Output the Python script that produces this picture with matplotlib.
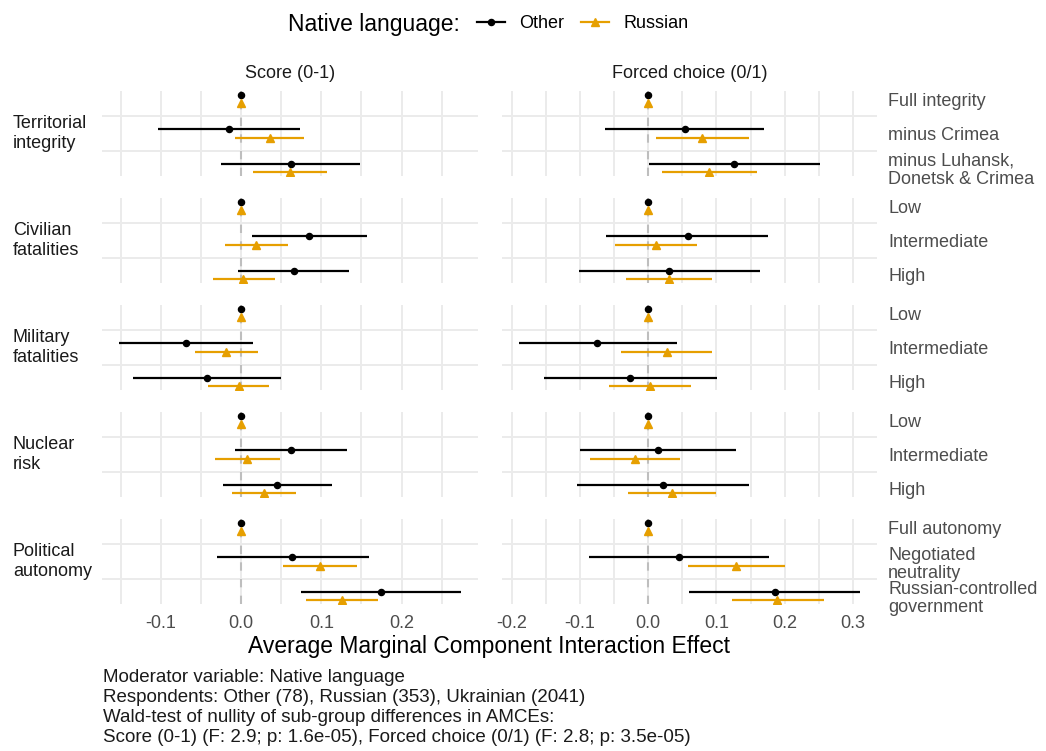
import numpy as np
import matplotlib.pyplot as plt
from matplotlib.lines import Line2D

plt.rcParams['font.family'] = ['Liberation Sans', 'DejaVu Sans']
plt.rcParams['axes.unicode_minus'] = False

# attributes (facet rows) and their levels
attributes = ["Territorial\nintegrity", "Civilian\nfatalities", "Military\nfatalities",
              "Nuclear\nrisk", "Political\nautonomy"]
levels = [
    ["Full integrity", "minus Crimea", "minus Luhansk,\nDonetsk & Crimea"],
    ["Low", "Intermediate", "High"],
    ["Low", "Intermediate", "High"],
    ["Low", "Intermediate", "High"],
    ["Full autonomy", "Negotiated\nneutrality", "Russian-controlled\ngovernment"],
]
outcomes = ["Score (0-1)", "Forced choice (0/1)"]
groups = ["Other", "Russian"]

# AMCIE estimates and 95% intervals, one row per attribute (first level = reference)
score_other_est = [[0, -0.015, 0.062], [0, 0.085, 0.066], [0, -0.068, -0.043], [0, 0.062, 0.045], [0, 0.064, 0.174]]
score_other_lo = [[0, -0.104, -0.025], [0, 0.014, -0.004], [0, -0.152, -0.135], [0, -0.007, -0.023], [0, -0.030, 0.075]]
score_other_hi = [[0, 0.074, 0.148], [0, 0.157, 0.135], [0, 0.015, 0.050], [0, 0.132, 0.113], [0, 0.159, 0.274]]
score_rus_est = [[0, 0.036, 0.061], [0, 0.019, 0.003], [0, -0.019, -0.003], [0, 0.008, 0.028], [0, 0.098, 0.126]]
score_rus_lo = [[0, -0.007, 0.015], [0, -0.020, -0.035], [0, -0.058, -0.041], [0, -0.032, -0.011], [0, 0.052, 0.081]]
score_rus_hi = [[0, 0.079, 0.107], [0, 0.058, 0.042], [0, 0.021, 0.035], [0, 0.048, 0.068], [0, 0.145, 0.171]]

forced_other_est = [[0, 0.054, 0.126], [0, 0.058, 0.031], [0, -0.075, -0.026], [0, 0.014, 0.022], [0, 0.045, 0.185]]
forced_other_lo = [[0, -0.063, 0.001], [0, -0.061, -0.101], [0, -0.189, -0.153], [0, -0.100, -0.104], [0, -0.086, 0.060]]
forced_other_hi = [[0, 0.170, 0.251], [0, 0.176, 0.163], [0, 0.042, 0.101], [0, 0.128, 0.148], [0, 0.177, 0.310]]
forced_rus_est = [[0, 0.079, 0.089], [0, 0.011, 0.031], [0, 0.027, 0.002], [0, -0.020, 0.035], [0, 0.129, 0.189]]
forced_rus_lo = [[0, 0.011, 0.020], [0, -0.049, -0.033], [0, -0.040, -0.058], [0, -0.085, -0.029], [0, 0.058, 0.122]]
forced_rus_hi = [[0, 0.148, 0.159], [0, 0.071, 0.094], [0, 0.094, 0.063], [0, 0.046, 0.099], [0, 0.200, 0.258]]

caption = [
    "Moderator variable: Native language",
    "Respondents: Other (78), Russian (353), Ukrainian (2041)",
    "Wald-test of nullity of sub-group differences in AMCEs:",
    "Score (0-1) (F: 2.9; p: 1.6e-05), Forced choice (0/1) (F: 2.8; p: 3.5e-05)",
]

series = [
    [(score_other_est, score_other_lo, score_other_hi), (score_rus_est, score_rus_lo, score_rus_hi)],
    [(forced_other_est, forced_other_lo, forced_other_hi), (forced_rus_est, forced_rus_lo, forced_rus_hi)],
]

colors = ["black", "#E69F00"]
markers = ["o", "^"]
msizes = [4.4, 5.2]
dodge = [-0.12, 0.12]
GRID = "#EBEBEB"
AXTXT = "#4D4D4D"
STRIP = "#1A1A1A"

W, H = 1046, 751
fig = plt.figure(figsize=(W / 100, H / 100), dpi=100)


def box(left, top, width, height):
    return [left / W, 1 - (top + height) / H, width / W, height / H]


col_left = [102, 502]
col_width = [376, 375]
row_top = [91, 198, 305, 412, 519]
row_h = 85

ypos = np.arange(1, 4)
for j, outcome in enumerate(outcomes):
    # free x scale per column with ggplot-like 5% expansion
    vals = np.concatenate([np.ravel(a) for s in series[j] for a in s[1:]])
    lo_all, hi_all = vals.min(), vals.max()
    pad = 0.05 * (hi_all - lo_all)
    xlim = (lo_all - pad, hi_all + pad)
    major = np.arange(np.ceil(xlim[0] / 0.1), np.floor(xlim[1] / 0.1) + 1) * 0.1
    minor = np.arange(np.ceil(xlim[0] / 0.05), np.floor(xlim[1] / 0.05) + 1) * 0.05

    for i, attr in enumerate(attributes):
        ax = fig.add_axes(box(col_left[j], row_top[i], col_width[j], row_h))
        ax.axvline(0, color="#BEBEBE", lw=1.5, ls=(0, (4, 4)), zorder=1)
        for g in range(len(groups)):
            est, lo, hi = series[j][g]
            y = ypos + dodge[g]
            ax.hlines(y, lo[i], hi[i], color=colors[g], lw=1.6, zorder=2)
            ax.plot(est[i], y, ls="none", marker=markers[g], ms=msizes[g],
                    color=colors[g], zorder=3)

        ax.set_xlim(xlim)
        ax.set_ylim(3 + 0.12 + 0.112, 1 - 0.12 - 0.112)
        ax.set_xticks(major)
        ax.set_xticks(minor, minor=True)
        ax.set_xticklabels([f"{v:.1f}" for v in major])
        ax.set_yticks([1.5, 2.5], minor=True)
        ax.xaxis.grid(True, which="both", color=GRID, lw=1.4, zorder=0)
        ax.yaxis.grid(True, which="minor", color=GRID, lw=1.4, zorder=0)
        ax.yaxis.grid(False, which="major")
        ax.set_axisbelow(True)
        for s in ax.spines.values():
            s.set_visible(False)
        ax.tick_params(which="both", length=0, labelsize=13, labelcolor=AXTXT, pad=8)
        if i < len(attributes) - 1:
            ax.tick_params(labelbottom=False)

        if j == 1:
            ax.yaxis.tick_right()
            ax.set_yticks(ypos)
            ax.set_yticklabels(levels[i], fontsize=13, color=AXTXT, linespacing=1.1)
            ax.tick_params(axis="y", pad=8)
        else:
            ax.set_yticks([])
            ax.set_yticks([1.5, 2.5], minor=True)
            ax.yaxis.grid(True, which="minor", color=GRID, lw=1.4, zorder=0)
            fig.text(13 / W, 1 - (row_top[i] + row_h / 2) / H, attr, ha="left",
                     va="center", fontsize=13, color=STRIP, linespacing=1.25)

    fig.text((col_left[j] + col_width[j] / 2) / W, 1 - 73 / H, outcome,
             ha="center", va="center", fontsize=13, color=STRIP)

fig.text(489 / W, 1 - 647 / H, "Average Marginal Component Interaction Effect",
         ha="center", va="center", fontsize=16.5, color="black")

for k, line in enumerate(caption):
    fig.text(103 / W, 1 - (677 + 20.3 * k) / H, line, ha="left", va="center",
             fontsize=13.5, color=STRIP)

# legend along the top
fig.text(288 / W, 1 - 24 / H, "Native language:", ha="left", va="center",
         fontsize=16.5, color="black")
handles = [Line2D([0], [0], color=colors[g], lw=1.6, marker=markers[g], ms=msizes[g])
           for g in range(len(groups))]
fig.legend(handles, groups, loc="center left", bbox_to_anchor=(477 / W, 1 - 24 / H),
           ncol=2, frameon=False, fontsize=13, handlelength=1.55, handletextpad=0.8,
           columnspacing=0.9, borderaxespad=0, borderpad=0, numpoints=1)

fig.savefig("out.png", dpi=100, facecolor="white")
